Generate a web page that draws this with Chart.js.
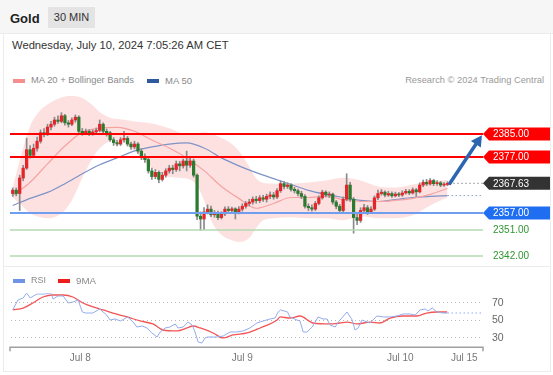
<!DOCTYPE html>
<html>
<head>
<meta charset="utf-8">
<script src="https://cdn.jsdelivr.net/npm/chart.js@4.4.1/dist/chart.umd.min.js"></script>
<style>
  html, body { margin: 0; padding: 0; background: #fff; }
  body { width: 553px; height: 375px; position: relative; overflow: hidden; font-family: "Liberation Sans", Arial, sans-serif; }
  .abs { position: absolute; white-space: nowrap; }
  #hdr { left: 0; top: 0; width: 553px; height: 33px; background: #f6f6f6; border-bottom: 1px solid #ebebeb; }
  #title { left: 10px; top: 12px; font-weight: bold; font-size: 13px; line-height: 13px; color: #222; }
  #tf { left: 48px; top: 7px; width: 47px; height: 21px; background: #e4e4e4; font-size: 11px; line-height: 21px; color: #333; text-align: center; }
  #frame { left: 3px; top: 33px; width: 546px; height: 338px; border: 1px solid #ececec; border-top: none; }
  #sep { left: 3px; top: 266px; width: 547px; height: 1px; background: #ececec; }
  #date { left: 12px; top: 40px; font-size: 11px; line-height: 11px; color: #333; }
  .leg { font-size: 9.5px; line-height: 9.5px; color: #8a8a8a; }
  .sw { height: 4px; width: 12px; }
  canvas { position: absolute; left: 0; }
</style>
</head>
<body>
<div id="hdr" class="abs"></div>
<div id="title" class="abs">Gold</div>
<div id="tf" class="abs">30 MIN</div>
<div id="frame" class="abs"></div>
<div id="sep" class="abs"></div>
<div id="date" class="abs fit" data-w="217">Wednesday, July 10, 2024 7:05:26 AM CET</div>

<canvas id="priceChart" width="553" height="180" style="top:88px"></canvas>
<canvas id="rsiChart" width="553" height="90" style="top:285px"></canvas>

<div class="abs sw" style="left:13px;top:79px;background:#f78e8e"></div>
<div class="abs leg fit" data-w="103" style="left:31px;top:76px">MA 20 + Bollinger Bands</div>
<div class="abs sw" style="left:147px;top:79px;background:#2f5a9e"></div>
<div class="abs leg fit" data-w="27" style="left:165px;top:76px">MA 50</div>
<div class="abs leg fit" data-w="139" style="right:9px;top:76px;color:#9a9a9a">Research © 2024 Trading Central</div>

<div class="abs sw" style="left:13px;top:279px;background:#6f93e6"></div>
<div class="abs leg fit" data-w="15" style="left:31px;top:276px">RSI</div>
<div class="abs sw" style="left:58px;top:279px;background:#f01c1c"></div>
<div class="abs leg fit" data-w="20" style="left:76px;top:276px">9MA</div>

<script>
// 30 min candles, Jul 5 afternoon -> Jul 10 07:00
const opens = [2364.0,2365.2,2364.0,2369.5,2373.0,2379.5,2377.5,2380.0,2382.5,2385.5,
  2385.0,2387.5,2388.5,2390.0,2389.5,2391.5,2389.0,2388.5,2390.0,2391.0,
  2386.0,2385.5,2386.0,2385.2,2385.8,2386.3,2388.5,2386.0,2385.5,2383.0,
  2382.0,2381.5,2383.0,2383.5,2381.5,2380.5,2381.5,2379.0,2377.0,2376.0,
  2372.0,2370.0,2371.5,2369.0,2370.5,2372.0,2373.0,2372.5,2374.5,2373.8,
  2375.5,2374.0,2375.5,2370.5,2356.0,2355.0,2357.5,2358.5,2356.5,2357.0,
  2355.5,2356.8,2358.5,2358.0,2358.6,2357.2,2358.5,2359.5,2360.5,2361.0,
  2362.0,2361.5,2362.5,2362.0,2363.0,2363.5,2362.8,2365.0,2367.5,2366.5,
  2367.0,2365.5,2365.0,2364.0,2363.0,2359.5,2359.0,2358.5,2360.5,2362.5,
  2364.5,2363.5,2363.8,2361.0,2359.5,2358.0,2362.0,2367.0,2362.0,2355.5,
  2354.5,2358.0,2359.0,2357.5,2358.5,2362.5,2364.0,2364.5,2363.5,2364.0,
  2363.2,2363.8,2363.5,2364.2,2364.8,2364.2,2365.3,2364.6,2367.0,2368.0,
  2367.4,2368.6,2367.5,2367.8,2367.0,2367.2];
const closes = [2365.2,2364.0,2369.5,2373.0,2379.5,2377.5,2380.0,2382.5,2385.5,2385.0,
  2387.5,2388.5,2390.0,2389.5,2391.5,2389.0,2388.5,2390.0,2391.0,2386.0,
  2385.5,2386.0,2385.2,2385.8,2386.3,2388.5,2386.0,2385.5,2383.0,2382.0,
  2381.5,2383.0,2383.5,2381.5,2380.5,2381.5,2379.0,2377.0,2376.0,2372.0,
  2370.0,2371.5,2369.0,2370.5,2372.0,2373.0,2372.5,2374.5,2373.8,2375.5,
  2374.0,2375.5,2370.5,2356.0,2355.0,2357.5,2358.5,2356.5,2357.0,2355.5,
  2356.8,2358.5,2358.0,2358.6,2357.2,2358.5,2359.5,2360.5,2361.0,2362.0,
  2361.5,2362.5,2362.0,2363.0,2363.5,2362.8,2365.0,2367.5,2366.5,2367.0,
  2365.5,2365.0,2364.0,2363.0,2359.5,2359.0,2358.5,2360.5,2362.5,2364.5,
  2363.5,2363.8,2361.0,2359.5,2358.0,2362.0,2367.0,2362.0,2355.5,2354.5,
  2358.0,2359.0,2357.5,2358.5,2362.5,2364.0,2364.5,2363.5,2364.0,2363.2,
  2363.8,2363.5,2364.2,2364.8,2364.2,2365.3,2364.6,2367.0,2368.0,2367.4,
  2368.6,2367.5,2367.8,2367.0,2367.2,2367.63];
const highs = [2366.0,2366.0,2370.5,2374.0,2383.6,2381.0,2381.5,2384.0,2386.5,2387.0,
  2388.5,2389.5,2391.0,2391.5,2392.6,2392.0,2389.8,2390.8,2391.8,2391.5,
  2387.0,2386.8,2386.6,2386.5,2387.2,2390.0,2389.0,2386.8,2386.0,2383.8,
  2382.8,2383.8,2386.0,2384.2,2382.2,2382.5,2382.0,2379.8,2378.0,2376.6,
  2373.0,2372.5,2372.0,2371.5,2372.8,2374.0,2374.0,2375.5,2375.4,2376.2,
  2379.0,2376.5,2376.2,2371.0,2357.5,2359.0,2360.0,2359.6,2358.0,2357.8,
  2357.6,2359.3,2359.4,2359.2,2359.0,2359.4,2360.4,2361.2,2362.0,2362.8,
  2363.0,2363.3,2363.4,2363.8,2364.6,2364.4,2365.8,2368.5,2368.2,2367.8,
  2367.5,2366.2,2365.6,2364.8,2363.6,2360.4,2360.0,2361.2,2363.2,2365.2,
  2365.0,2364.6,2364.2,2361.6,2360.2,2362.8,2371.0,2368.0,2362.6,2356.8,
  2359.0,2360.2,2359.8,2359.4,2363.2,2365.2,2365.4,2365.0,2364.8,2364.6,
  2364.5,2364.4,2365.0,2365.5,2365.4,2366.0,2365.8,2367.8,2368.8,2369.0,
  2369.3,2369.0,2368.6,2368.3,2367.9,2368.2];
const lows = [2363.0,2363.2,2358.0,2368.5,2372.5,2376.5,2376.8,2379.0,2381.8,2384.0,
  2384.5,2386.5,2387.8,2388.8,2389.0,2388.2,2387.5,2388.0,2389.2,2385.5,
  2384.6,2384.8,2384.5,2384.6,2385.0,2385.8,2385.4,2384.3,2382.4,2381.0,
  2380.8,2381.0,2382.2,2380.8,2379.6,2379.8,2378.2,2376.0,2375.0,2371.2,
  2369.0,2369.2,2367.8,2368.4,2369.8,2371.2,2371.0,2371.8,2372.0,2373.0,
  2372.0,2373.2,2369.8,2354.8,2351.0,2351.2,2356.8,2355.8,2355.6,2354.8,
  2355.0,2356.2,2357.2,2357.4,2355.0,2356.8,2357.8,2358.8,2359.6,2360.2,
  2360.6,2360.8,2361.2,2361.0,2362.2,2362.0,2362.2,2364.4,2365.6,2365.8,
  2364.8,2364.2,2363.2,2362.2,2358.8,2358.0,2357.8,2358.0,2360.0,2362.0,
  2362.8,2362.6,2360.2,2358.6,2357.0,2357.6,2361.4,2361.2,2350.0,2353.0,
  2353.8,2357.2,2356.6,2357.0,2358.0,2361.8,2363.4,2362.8,2363.0,2362.6,
  2362.8,2362.9,2363.0,2363.8,2363.6,2363.8,2363.0,2364.2,2366.4,2366.8,
  2367.0,2366.8,2366.9,2366.4,2366.5,2366.8];

// bollinger bands (read at these candle indices)
const bandIdx = [0,2,5,8,10,13,15,17,20,23,25,28,30,35,40,45,50,53,55,57,60,63,65,68,70,72,75,80,85,90,95,100,105,110,115,120,125];
const bbUpper = [2366.1,2375.6,2387.8,2393.5,2395.5,2397.5,2398.3,2398.5,2397.8,2395.2,2392.8,2390.8,2390.4,2389.5,2388.8,2387.1,2385.0,2385.3,2385.7,2385.2,2383.6,2381.5,2379.1,2373.5,2369.3,2367.8,2367.5,2367.5,2367.9,2368.6,2369.6,2368.6,2366.5,2366.1,2367.2,2368.2,2368.9];
const bbLower = [2362.6,2360.5,2357.0,2355.6,2355.3,2356.2,2358.1,2361.6,2369.6,2376.6,2380.0,2382.6,2383.0,2379.0,2373.0,2369.8,2369.3,2366.8,2361.6,2354.6,2349.4,2347.5,2346.9,2348.3,2351.8,2354.6,2355.3,2355.6,2355.3,2355.3,2354.6,2356.0,2355.3,2355.3,2356.3,2359.8,2362.6];

const maIdx = [0,5,10,15,20,25,30,35,40,45,50,55,60,65,70,75,80,85,90,95,100,105,110,115,120,125];
const ma20 = [2363.3,2368.0,2374.5,2380.8,2385.7,2387.1,2387.4,2386.0,2382.9,2380.1,2376.6,2372.1,2366.5,2362.3,2358.8,2360.5,2362.6,2362.6,2363.0,2361.9,2361.2,2361.2,2361.6,2362.3,2363.7,2365.8];
const ma50 = [2359.8,2362.3,2364.4,2367.5,2371.0,2374.2,2376.6,2379.1,2380.5,2381.5,2381.9,2380.1,2376.6,2373.8,2371.4,2369.3,2367.2,2365.1,2363.7,2362.6,2361.6,2361.2,2361.9,2362.6,2363.0,2363.3];

const rsiIdx = [0,1.5,3,4,5,6,7,9,11,11.6,13,14.5,16,17.3,18.8,20,21,23,25,27,28,29.4,31,33,34.6,35.7,37.2,38.6,40,41.5,42.4,43.8,45.2,46.7,47.5,49,50.4,51.6,52.4,53.3,54.4,55.3,56,58.7,60.5,62.5,64.5,66.2,68.2,70.2,72,74,75.4,76.3,77,79,79.7,81.7,82.6,83.5,84.6,86.1,87.8,89.2,90.4,91.2,92.7,93.6,96.1,97.6,98.4,99.3,100.4,101.9,102.7,104.7,106.5,108.5,110.5,112.2,114.2,115.7,117.1,118.6,119.4,120.6,122,123.7,125];
const rsiVal = [60.9,72.3,74.6,80.3,74.6,76.9,79.1,79.1,80.3,73.4,76.9,76.9,68.9,70,72.3,58.6,57.4,57.4,62,55.1,49.4,50.6,48.3,52.9,47.1,41.4,42.6,40.3,34.6,30,35.7,40.3,41.4,44.9,40.3,41.4,47.1,43.7,35.7,24.3,23.1,28.9,30,30,31.1,35.7,35.7,36.9,40.3,46,48.3,50.6,51.7,58.6,60.9,58.6,52.9,49.4,48.3,35.7,35.7,41.4,52.9,50.6,50.6,43.7,41.4,47.1,58.6,49.4,38,40.3,49.4,47.1,46,54,52.9,52.9,54,56.3,56.3,55.1,60.9,62,59.7,63.1,58.6,57.4,57.4];
const ma9Idx = [0,3,5.8,8.7,11.6,14.5,17.3,20.2,23.1,26,28.8,32.9,36.6,40.3,43.2,47.2,50.1,51.8,53.9,57.6,60.5,63.3,67.4,71.1,76,76.9,79.7,82.6,86.3,91.2,94,96.1,99,102.7,105.6,108.5,112.2,116.2,119,122,124.9];
const ma9Val = [60.9,63.1,68.9,75.7,78,78,75.7,68.9,64.3,60.9,57.4,52.9,48.3,44.9,38,36.9,40.3,42.6,40.3,34.6,28.9,32.3,34.6,40.3,49.4,52.9,51.7,54,46,44.9,46,47.1,44.9,47.1,46,51.7,54,54,57.4,58.6,58.6];

const levels = [2385, 2377, 2357, 2351, 2342];
const lastPrice = 2367.63;
const targetIdx = 134.9;
const rsiTicks = [70, 50, 30];
const xTickLabels = ['Jul 8', 'Jul 9', 'Jul 10', 'Jul 15'];
const xTickPos = [19.4, 66, 111.4, 129.8];

const xMin = -0.5, xMax = 135.2;
const UP = '#e3262a', DOWN = '#2b7a2f';
const levelStyle = [
  { line: '#ff0000', w: 2, tag: '#ff0000' },
  { line: '#ff0000', w: 2, tag: '#ff0000' },
  { line: '#6f9df0', w: 2, tag: '#1f6ef2' },
  { line: '#b3dab3', w: 1.5, text: '#2f962f' },
  { line: '#b3dab3', w: 1.5, text: '#2f962f' }
];
const pts = (xs, ys) => xs.map((x, k) => ({ x, y: ys[k] }));

// ajuste la taille des textes html à la largeur voulue
document.querySelectorAll('.fit').forEach(el => {
    const fs = parseFloat(getComputedStyle(el).fontSize);
    const w = el.getBoundingClientRect().width;
    const nfs = fs * (+el.dataset.w) / w;
    el.style.fontSize = nfs + 'px';
    el.style.lineHeight = nfs + 'px';
    el.style.top = (parseFloat(getComputedStyle(el).top) + 0.85 * (fs - nfs)) + 'px';
});

function tag(ctx, x0, yc, w, h, color) {
    ctx.fillStyle = color;
    ctx.beginPath();
    ctx.moveTo(x0, yc);
    ctx.lineTo(x0 + 6, yc - h / 2);
    ctx.lineTo(x0 + w, yc - h / 2);
    ctx.lineTo(x0 + w, yc + h / 2);
    ctx.lineTo(x0 + 6, yc + h / 2);
    ctx.closePath();
    ctx.fill();
}

// niveaux, étiquettes, flèche
const levelPlugin = {
    id: 'levels',
    afterDatasetsDraw(chart) {
        const { ctx, chartArea: a, scales: { x, y } } = chart;
        ctx.save();
        ctx.font = '10px "Liberation Sans", Arial, sans-serif';
        ctx.textBaseline = 'middle';

        // pointillés : dernier cours et MA50
        ctx.setLineDash([1.5, 2.5]);
        ctx.lineWidth = 1;
        ctx.strokeStyle = '#8c8c8c';
        const yl = y.getPixelForValue(lastPrice);
        ctx.beginPath(); ctx.moveTo(x.getPixelForValue(closes.length - 0.5), yl); ctx.lineTo(a.right + 4, yl); ctx.stroke();
        ctx.strokeStyle = '#8fa0cf';
        const ym = y.getPixelForValue(ma50[ma50.length - 1]);
        ctx.beginPath(); ctx.moveTo(x.getPixelForValue(maIdx[maIdx.length - 1]), ym); ctx.lineTo(a.right, ym); ctx.stroke();
        ctx.setLineDash([]);

        levels.forEach((v, k) => {
            const st = levelStyle[k];
            const py = Math.round(y.getPixelForValue(v));
            ctx.strokeStyle = st.line;
            ctx.lineWidth = st.w;
            ctx.beginPath(); ctx.moveTo(a.left - 1, py); ctx.lineTo(a.right, py); ctx.stroke();
            if (st.tag) {
                tag(ctx, a.right, py, 67, 13, st.tag);
                ctx.fillStyle = '#fff';
            } else {
                ctx.fillStyle = st.text;
            }
            ctx.fillText(v.toFixed(2), a.right + 10, py + 0.5);
        });

        tag(ctx, a.right, yl, 67, 13, '#333');
        ctx.fillStyle = '#fff';
        ctx.fillText(lastPrice.toFixed(2), a.right + 10, yl + 0.5);

        // flèche
        const x0 = x.getPixelForValue(closes.length - 0.3), y0 = yl;
        const x1 = x.getPixelForValue(targetIdx), y1 = y.getPixelForValue(levels[0]) + 1;
        const ang = Math.atan2(y1 - y0, x1 - x0);
        const hx = x1 - 11 * Math.cos(ang), hy = y1 - 11 * Math.sin(ang);
        ctx.strokeStyle = '#2c66b0';
        ctx.lineWidth = 3.5;
        ctx.lineCap = 'round';
        ctx.beginPath(); ctx.moveTo(x0, y0); ctx.lineTo(hx, hy); ctx.stroke();
        ctx.fillStyle = '#2c66b0';
        ctx.beginPath();
        ctx.moveTo(x1, y1);
        ctx.lineTo(hx + 6 * Math.sin(ang), hy - 6 * Math.cos(ang));
        ctx.lineTo(hx - 6 * Math.sin(ang), hy + 6 * Math.cos(ang));
        ctx.closePath();
        ctx.fill();
        ctx.restore();
    }
};

new Chart(document.getElementById('priceChart'), {
    type: 'bar',
    data: {
        datasets: [
            { type: 'line', data: pts(bandIdx, bbUpper), borderWidth: 0, fill: '+1', backgroundColor: 'rgba(250,165,165,0.33)', cubicInterpolationMode: 'monotone', pointRadius: 0, order: 4 },
            { type: 'line', data: pts(bandIdx, bbLower), borderWidth: 0, fill: false, cubicInterpolationMode: 'monotone', pointRadius: 0, order: 4 },
            { type: 'line', data: pts(maIdx, ma20), borderColor: '#f5a3a3', borderWidth: 1.2, cubicInterpolationMode: 'monotone', pointRadius: 0, order: 3 },
            { type: 'line', data: pts(maIdx, ma50), borderColor: '#7d93c7', borderWidth: 1.2, cubicInterpolationMode: 'monotone', pointRadius: 0, order: 3 },
            { data: highs.map((h, i) => ({ x: i, y: [lows[i], h] })), backgroundColor: '#8a8a8a', barThickness: 1, grouped: false, order: 2 },
            { data: closes.map((c, i) => ({ x: i, y: [opens[i], c] })), backgroundColor: ctx => closes[ctx.dataIndex] >= opens[ctx.dataIndex] ? UP : DOWN,
              barThickness: 2.6, minBarLength: 1, grouped: false, order: 1 }
        ]
    },
    options: {
        responsive: false, animation: false, devicePixelRatio: 1,
        layout: { padding: { left: 11, right: 70, top: 2, bottom: 3 } },
        plugins: { legend: { display: false }, tooltip: { enabled: false } },
        scales: {
            x: { type: 'linear', min: xMin, max: xMax, offset: false, display: false },
            y: { min: 2338.75, max: 2400.6, display: false }
        }
    },
    plugins: [levelPlugin]
});

const rsiPlugin = {
    id: 'rsiDeco',
    beforeDatasetsDraw(chart) {
        const { ctx, chartArea: a, scales: { y } } = chart;
        ctx.save();
        ctx.setLineDash([1, 3]);
        ctx.strokeStyle = '#b8b8b8';
        ctx.lineWidth = 1;
        rsiTicks.forEach(t => {
            const py = Math.round(y.getPixelForValue(t)) + 0.5;
            ctx.beginPath(); ctx.moveTo(a.left, py); ctx.lineTo(a.right, py); ctx.stroke();
        });
        ctx.restore();
    },
    afterDatasetsDraw(chart) {
        const { ctx, chartArea: a, scales: { x, y } } = chart;
        ctx.save();
        ctx.setLineDash([1.5, 2.5]);
        ctx.strokeStyle = '#8fa9ec';
        ctx.lineWidth = 1;
        const yr = y.getPixelForValue(rsiVal[rsiVal.length - 1]);
        ctx.beginPath(); ctx.moveTo(x.getPixelForValue(rsiIdx[rsiIdx.length - 1]), yr); ctx.lineTo(a.right, yr); ctx.stroke();
        ctx.setLineDash([]);

        ctx.font = '10.5px "Liberation Sans", Arial, sans-serif';
        ctx.fillStyle = '#666';
        ctx.textBaseline = 'middle';
        rsiTicks.forEach(t => ctx.fillText(String(t), a.right + 9, y.getPixelForValue(t) + 1));

        // axe x
        const ay = a.bottom + 1.5;
        ctx.strokeStyle = '#a0a0a0';
        ctx.lineWidth = 1.5;
        ctx.beginPath();
        ctx.moveTo(a.left - 1, ay + 4); ctx.lineTo(a.left - 1, ay); ctx.lineTo(a.right, ay); ctx.lineTo(a.right, ay + 4);
        ctx.stroke();
        ctx.font = '10px "Liberation Sans", Arial, sans-serif';
        ctx.textAlign = 'center';
        ctx.textBaseline = 'alphabetic';
        ctx.fillStyle = '#777';
        xTickLabels.forEach((l, k) => ctx.fillText(l, x.getPixelForValue(xTickPos[k]), ay + 13.5));
        ctx.restore();
    }
};

new Chart(document.getElementById('rsiChart'), {
    type: 'line',
    data: {
        datasets: [
            { data: pts(rsiIdx, rsiVal), borderColor: '#94acec', borderWidth: 1, pointRadius: 0, tension: 0 },
            { data: pts(ma9Idx, ma9Val), borderColor: '#f25555', borderWidth: 1.3, pointRadius: 0, cubicInterpolationMode: 'monotone' }
        ]
    },
    options: {
        responsive: false, animation: false, devicePixelRatio: 1,
        layout: { padding: { left: 11, right: 70, top: 8.25, bottom: 29.25 } },
        plugins: { legend: { display: false }, tooltip: { enabled: false } },
        scales: {
            x: { type: 'linear', min: xMin, max: xMax, display: false },
            y: { min: 20, max: 80, display: false }
        }
    },
    plugins: [rsiPlugin]
});
</script>
</body>
</html>
